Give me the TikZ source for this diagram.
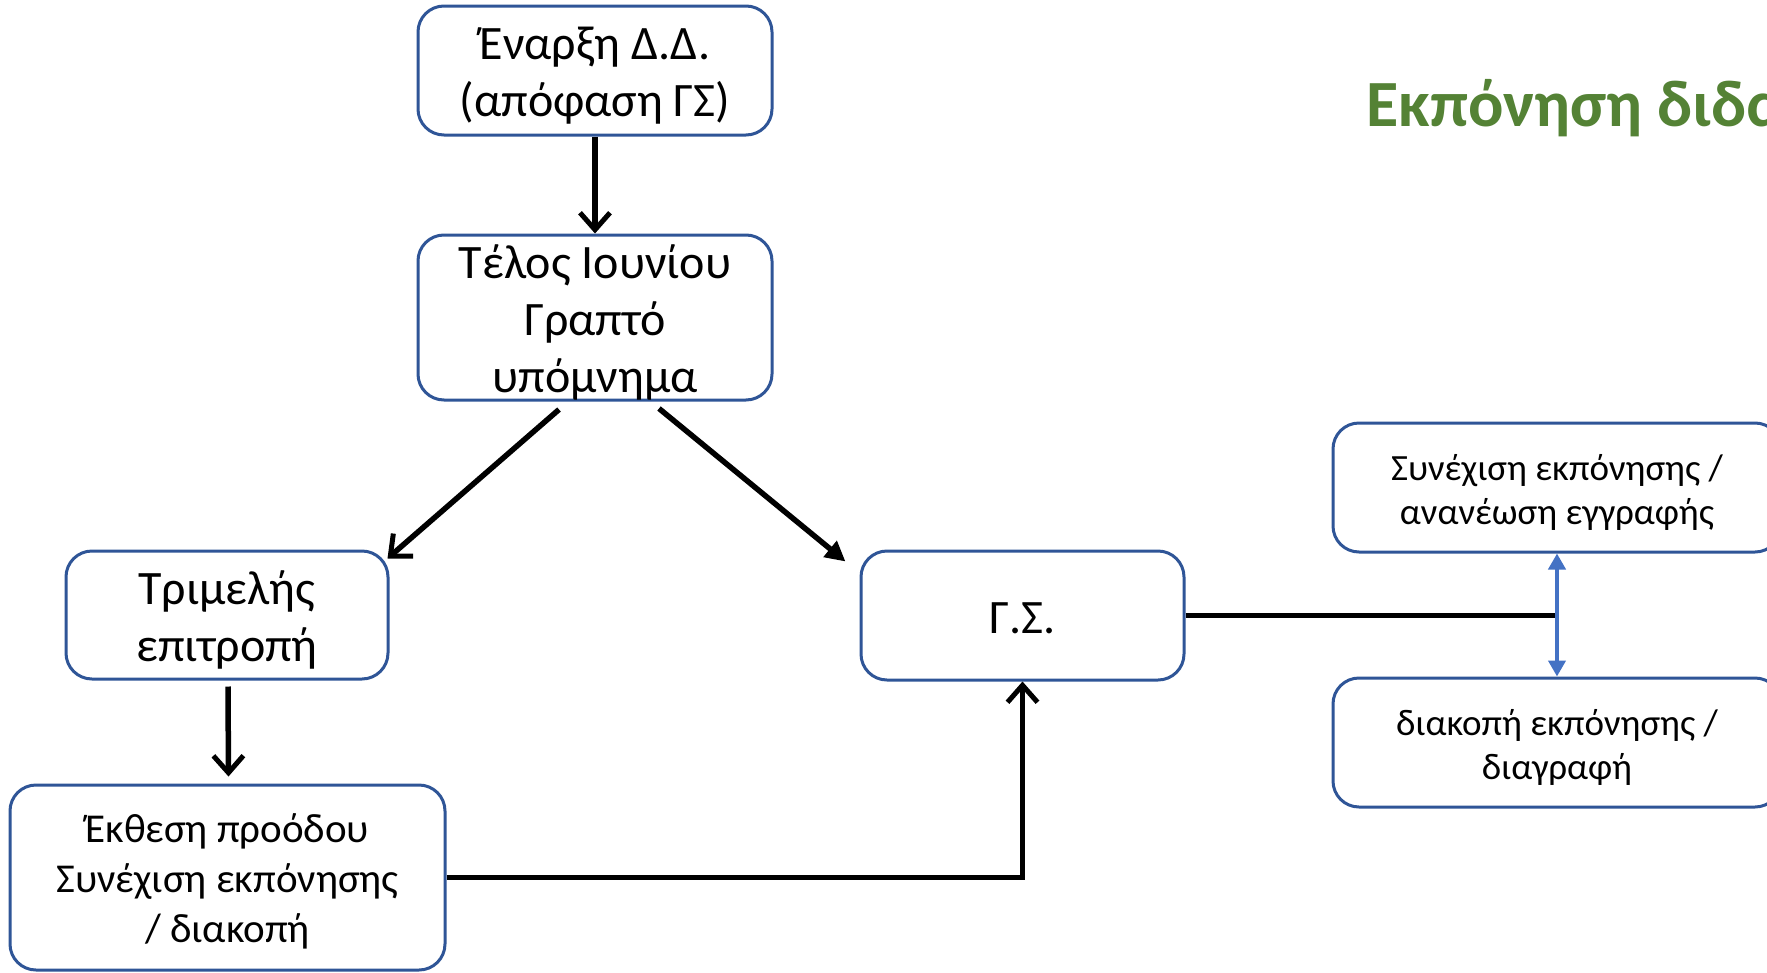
\documentclass[tikz,border=0pt]{standalone}
\usepackage{fontspec}
\setmainfont{Carlito}
\usetikzlibrary{arrows.meta,calc}
\definecolor{boxblue}{HTML}{2F5597}
\definecolor{arrowblue}{HTML}{4472C4}
\definecolor{titlegreen}{HTML}{548235}
\tikzset{
  box/.style={draw=boxblue, line width=3pt, rounded corners=26pt, fill=white, inner sep=0pt, anchor=center},
  lbl/.style={align=center, inner sep=0pt, yshift=-5pt},
  bigtext/.style={lbl, font=\fontsize{48}{57}\selectfont},
  midtext/.style={lbl, font=\fontsize{41}{50}\selectfont},
  smalltext/.style={lbl, font=\fontsize{37}{44}\selectfont},
  conn/.style={line width=5.5pt, black},
  openhead/.style={-{Straight Barb[length=17pt,width=30pt,line width=5pt]}},
  filledhead/.style={-{Triangle[length=20pt,width=20pt]}},
  bluearrow/.style={line width=4pt, arrowblue, {Triangle[length=16pt,width=17pt]}-{Triangle[length=16pt,width=17pt]}}
}
\begin{document}
\begin{tikzpicture}[x=1pt,y=-1pt]
\clip (0,0) rectangle (1767,972);
\fill[white] (0,0) rectangle (1767,972);
\node[box,minimum width=354pt,minimum height=129pt,label={[bigtext]center:{Έναρξη Δ.Δ.\\(απόφαση ΓΣ)}}] (start) at (595,70.5) {};
\node[box,minimum width=354pt,minimum height=165pt,label={[bigtext]center:{Τέλος Ιουνίου\\Γραπτό\\υπόμνημα}}] (june) at (595,317.5) {};
\node[box,minimum width=322pt,minimum height=128pt,label={[bigtext]center:{Τριμελής\\επιτροπή}}] (trim) at (227,615) {};
\node[box,minimum width=435pt,minimum height=185pt,label={[midtext,yshift=1pt]center:{Έκθεση προόδου\\Συνέχιση εκπόνησης\\/ διακοπή}}] (report) at (227.5,877.5) {};
\node[box,minimum width=323pt,minimum height=129pt,label={[bigtext,yshift=2pt]center:{Γ.Σ.}}] (gs) at (1022.5,615.5) {};
\node[box,minimum width=448pt,minimum height=129pt,label={[smalltext]center:{Συνέχιση εκπόνησης /\\ανανέωση εγγραφής}}] (cont) at (1557,487.5) {};
\node[box,minimum width=448pt,minimum height=129pt,label={[smalltext]center:{διακοπή εκπόνησης /\\διαγραφή}}] (stop) at (1557,742.5) {};
\node[anchor=base west, font=\fontsize{66}{76}\selectfont\bfseries, text=titlegreen, inner sep=0pt] (title) at (1366,126) {Εκπόνηση διδα};
% connectors
\draw[conn,openhead] (start.south) -- (june.north);
\draw[conn,openhead] ([xshift=-36pt,yshift=-8pt]june.south) -- ([xshift=-2pt,yshift=-9pt]trim.north east);
\draw[conn,filledhead] ([xshift=64pt,yshift=-7pt]june.south) -- ([xshift=-14pt,yshift=-12pt]gs.north west);
\draw[conn,openhead] ([xshift=1pt,yshift=-6pt]trim.south) -- ([xshift=1pt,yshift=7pt]report.north);
\coordinate (corner) at (gs.south |- report.east);
\draw[conn,openhead] (report.east) -- (corner) -- (gs.south);
\coordinate (junction) at (cont.south |- gs.east);
\draw[conn] (gs.east) -- (junction);
\draw[bluearrow] (cont.south) -- (stop.north);
\end{tikzpicture}
\end{document}
